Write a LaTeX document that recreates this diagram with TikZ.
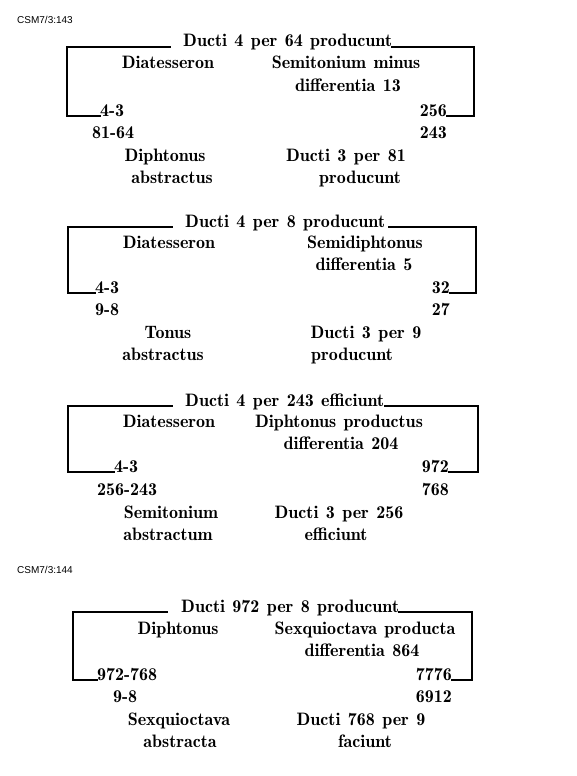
\documentclass[tikz,border=0pt]{standalone}
\usepackage{fontspec}
\newfontfamily\lblfont{Liberation Sans}
\begin{document}
\begin{tikzpicture}[x=1pt,y=-1pt,
  txt/.style={inner sep=0pt, font={\fontsize{18}{21}\fontseries{b}\selectfont\spaceskip=7.4pt plus 1pt minus 1pt\relax}},
  lbl/.style={inner sep=0pt, anchor=base west, font=\lblfont\fontsize{10}{12}\selectfont},
  ln/.style={line width=1.5pt, line cap=rect}]
\useasboundingbox (0,0) rectangle (576,776);
\fill[white] (0,0) rectangle (576,776);

% ---------- Block 1 ----------
\node[lbl] (csm1) at (17,24) {CSM7/3:143};
\node[txt, anchor=base west] (t1) at (183,47) {Ducti 4 per 64 producunt};
\node[txt, anchor=base] (a1) at (168,69) {Diatesseron};
\node[txt, anchor=base] (b1) at (346,69) {Semitonium minus};
\node[txt, anchor=base] (c1) at (348,91) {differentia 13};
\node[txt, anchor=base west] (l1) at (100,116) {4-3};
\node[txt, anchor=base east] (r1) at (447,116) {256};
\node[txt, anchor=base west] (m1) at (92,138) {81-64};
\node[txt, anchor=base east] (n1) at (447,138) {243};
\node[txt, anchor=base] (d1) at (165,161) {Diphtonus};
\node[txt, anchor=base] (e1) at (346,161) {Ducti 3 per 81};
\node[txt, anchor=base] (f1) at (172,183) {abstractus};
\node[txt, anchor=base] (g1) at (360,183) {producunt};
\coordinate (p1a) at (170,47); \coordinate (p1b) at (67,47); \coordinate (p1c) at (67,116);
\coordinate (q1a) at (474,47); \coordinate (q1b) at (474,116);
\draw[ln] (p1a) -- (p1b) -- (p1c) -- (l1.base west);
\draw[ln] (t1.base east) -- (q1a) -- (q1b) -- (r1.base east);

% ---------- Block 2 ----------
\node[txt, anchor=base west] (t2) at (185,227) {Ducti 4 per 8 producunt};
\node[txt, anchor=base] (a2) at (169,248) {Diatesseron};
\node[txt, anchor=base] (b2) at (365,248) {Semidiphtonus};
\node[txt, anchor=base] (c2) at (364,270) {differentia 5};
\node[txt, anchor=base west] (l2) at (95,293) {4-3};
\node[txt, anchor=base east] (r2) at (450,293) {32};
\node[txt, anchor=base west] (m2) at (95,315) {9-8};
\node[txt, anchor=base east] (n2) at (450,315) {27};
\node[txt, anchor=base] (d2) at (168,338) {Tonus};
\node[txt, anchor=base] (e2) at (366,338) {Ducti 3 per 9};
\node[txt, anchor=base] (f2) at (163,360) {abstractus};
\node[txt, anchor=base] (g2) at (352,360) {producunt};
\coordinate (p2a) at (172,227); \coordinate (p2b) at (68,227); \coordinate (p2c) at (68,293);
\coordinate (q2s) at ([xshift=4pt]t2.base east);
\coordinate (q2a) at (476,227); \coordinate (q2b) at (476,293);
\draw[ln] (p2a) -- (p2b) -- (p2c) -- (l2.base west);
\draw[ln] (q2s) -- (q2a) -- (q2b) -- (r2.base east);

% ---------- Block 3 ----------
\node[txt, anchor=base west] (t3) at (185,406) {Ducti 4 per 243 efficiunt};
\node[txt, anchor=base] (a3) at (169,427) {Diatesseron};
\node[txt, anchor=base] (b3) at (339,427) {Diphtonus productus};
\node[txt, anchor=base] (c3) at (341,449) {differentia 204};
\node[txt, anchor=base west] (l3) at (114,472) {4-3};
\node[txt, anchor=base east] (r3) at (449,472) {972};
\node[txt, anchor=base west] (m3) at (97,495) {256-243};
\node[txt, anchor=base east] (n3) at (449,495) {768};
\node[txt, anchor=base] (d3) at (171,518) {Semitonium};
\node[txt, anchor=base] (e3) at (339,518) {Ducti 3 per 256};
\node[txt, anchor=base] (f3) at (168,540) {abstractum};
\node[txt, anchor=base] (g3) at (336,540) {efficiunt};
\coordinate (p3a) at (172,406); \coordinate (p3b) at (68,406); \coordinate (p3c) at (68,472);
\coordinate (q3a) at (478,406); \coordinate (q3b) at (478,472);
\draw[ln] (p3a) -- (p3b) -- (p3c) -- (l3.base west);
\draw[ln] (t3.base east) -- (q3a) -- (q3b) -- (r3.base east);

% ---------- Block 4 ----------
\node[lbl] (csm2) at (17,573) {CSM7/3:144};
\node[txt, anchor=base west] (t4) at (181,612) {Ducti 972 per 8 producunt};
\node[txt, anchor=base] (a4) at (178,634) {Diphtonus};
\node[txt, anchor=base] (b4) at (365,634) {Sexquioctava producta};
\node[txt, anchor=base] (c4) at (362,656) {differentia 864};
\node[txt, anchor=base west] (l4) at (97,680) {972-768};
\node[txt, anchor=base east] (r4) at (452,680) {7776};
\node[txt, anchor=base west] (m4) at (113,702) {9-8};
\node[txt, anchor=base east] (n4) at (452,702) {6912};
\node[txt, anchor=base] (d4) at (179,725) {Sexquioctava};
\node[txt, anchor=base] (e4) at (361,725) {Ducti 768 per 9};
\node[txt, anchor=base] (f4) at (180,747) {abstracta};
\node[txt, anchor=base] (g4) at (365,747) {faciunt};
\coordinate (p4a) at (167,612); \coordinate (p4b) at (73,612); \coordinate (p4c) at (73,680);
\coordinate (q4a) at (472,612); \coordinate (q4b) at (472,680);
\draw[ln] (p4a) -- (p4b) -- (p4c) -- (l4.base west);
\draw[ln] (t4.base east) -- (q4a) -- (q4b) -- (r4.base east);
\end{tikzpicture}
\end{document}
